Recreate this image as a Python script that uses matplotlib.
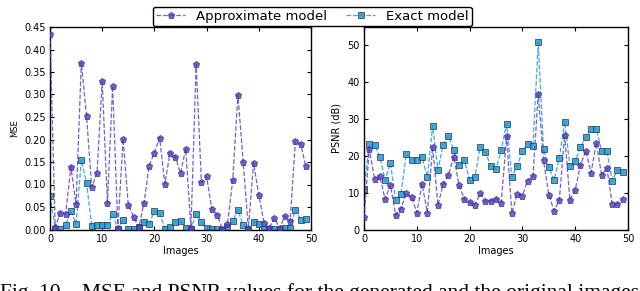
import numpy as np
import matplotlib
matplotlib.use("Agg")
import matplotlib.pyplot as plt

# image index 0..49
images = np.arange(50)

# MSE values
mse_approx = [0.435, 0.005, 0.037, 0.035, 0.139, 0.056, 0.371, 0.252, 0.094, 0.125,
              0.330, 0.058, 0.319, 0.003, 0.201, 0.054, 0.028, 0.005, 0.058, 0.142,
              0.171, 0.204, 0.101, 0.171, 0.162, 0.125, 0.179, 0.004, 0.368, 0.105,
              0.118, 0.045, 0.033, 0.002, 0.012, 0.109, 0.299, 0.151, 0.002, 0.148,
              0.076, 0.015, 0.003, 0.025, 0.003, 0.030, 0.018, 0.196, 0.191, 0.141]
mse_exact = [0.075, 0.002, 0.002, 0.010, 0.041, 0.013, 0.154, 0.104, 0.007, 0.011,
             0.011, 0.010, 0.034, 0.002, 0.022, 0.002, 0.002, 0.006, 0.017, 0.012,
             0.041, 0.037, 0.002, 0.005, 0.017, 0.019, 0.004, 0.002, 0.034, 0.017,
             0.004, 0.001, 0.002, 0.000, 0.005, 0.018, 0.044, 0.009, 0.001, 0.017,
             0.012, 0.002, 0.002, 0.002, 0.002, 0.004, 0.004, 0.044, 0.022, 0.023]

# PSNR values (dB)
psnr_approx = [3.3, 21.8, 13.8, 14.4, 8.2, 12.1, 3.9, 5.7, 9.8, 8.9,
               4.6, 12.3, 4.6, 22.5, 6.6, 12.3, 14.9, 19.8, 12.1, 8.2,
               7.4, 6.6, 9.8, 7.7, 7.7, 8.4, 7.3, 25.3, 4.4, 9.6,
               9.2, 13.3, 14.4, 36.8, 18.8, 9.4, 5.1, 8.0, 25.7, 8.0,
               10.8, 17.5, 21.4, 15.4, 23.5, 14.7, 16.7, 7.0, 7.0, 8.2]
psnr_exact = [10.9, 23.2, 23.0, 19.8, 13.4, 18.0, 7.9, 9.6, 20.4, 19.0,
              19.0, 19.6, 14.3, 28.2, 16.2, 23.0, 25.4, 21.6, 17.5, 18.9,
              13.4, 14.2, 22.4, 21.0, 17.3, 16.4, 21.6, 28.7, 14.3, 17.3,
              21.2, 23.3, 22.7, 50.9, 21.8, 17.0, 13.4, 19.4, 29.3, 17.3,
              18.6, 22.4, 25.0, 27.3, 27.3, 21.4, 21.4, 13.2, 16.2, 15.7]

purple = "#5438c0"
blue = "#1a9be0"

fig = plt.figure(figsize=(6.4, 2.91), dpi=100)
ax1 = fig.add_axes([50 / 640, 1 - 229.5 / 291, 261 / 640, 202.5 / 291])
ax2 = fig.add_axes([364 / 640, 1 - 229.5 / 291, 264 / 640, 202.5 / 291])


def draw(ax, ya, ye):
    la, = ax.plot(images, ya, "--", color=purple, lw=0.9, alpha=0.8,
                  marker="p", ms=5, mfc=purple, mec="#3a2a80", mew=0.6,
                  label="Approximate model", zorder=3)
    le, = ax.plot(images, ye, "--", color=blue, lw=0.9, alpha=0.85,
                  marker="s", ms=4.6, mfc=blue, mec="#333333", mew=0.6,
                  label="Exact model", zorder=2)
    ax.set_xlim(0, 50)
    ax.set_xticks([0, 10, 20, 30, 40, 50])
    ax.tick_params(direction="in", top=True, right=True, labelsize=7, length=3, pad=3)
    ax.set_xlabel("Images", fontsize=7, labelpad=2)
    for s in ax.spines.values():
        s.set_linewidth(1.0)
    return la, le


la, le = draw(ax1, mse_approx, mse_exact)
ax1.set_ylim(0, 0.45)
ax1.set_yticks(np.arange(0, 0.46, 0.05))
ax1.set_yticklabels(["%.2f" % v for v in np.arange(0, 0.46, 0.05)])
ax1.set_ylabel("MSE", fontsize=6, labelpad=4)

draw(ax2, psnr_approx, psnr_exact)
ax2.set_ylim(0, 55)
ax2.set_yticks([0, 10, 20, 30, 40, 50])
ax2.set_ylabel("PSNR (dB)", fontsize=7, labelpad=4)

fig.legend([la, le], ["Approximate model", "Exact model"], ncol=2,
           loc="upper center", bbox_to_anchor=(0.488, 1.0), fontsize=9.5,
           frameon=True, fancybox=True, edgecolor="black", framealpha=1,
           handlelength=2.2, columnspacing=1.5, borderpad=0.25)

# caption of the paper figure, cut by the bottom edge as in the source
fig.text(0.0, 1 - 298 / 291,
         "Fig. 10.   MSE and PSNR values for the generated and the original images",
         family="Liberation Serif", fontsize=15.5, va="baseline", ha="left")

fig.savefig("out.png", dpi=100)
